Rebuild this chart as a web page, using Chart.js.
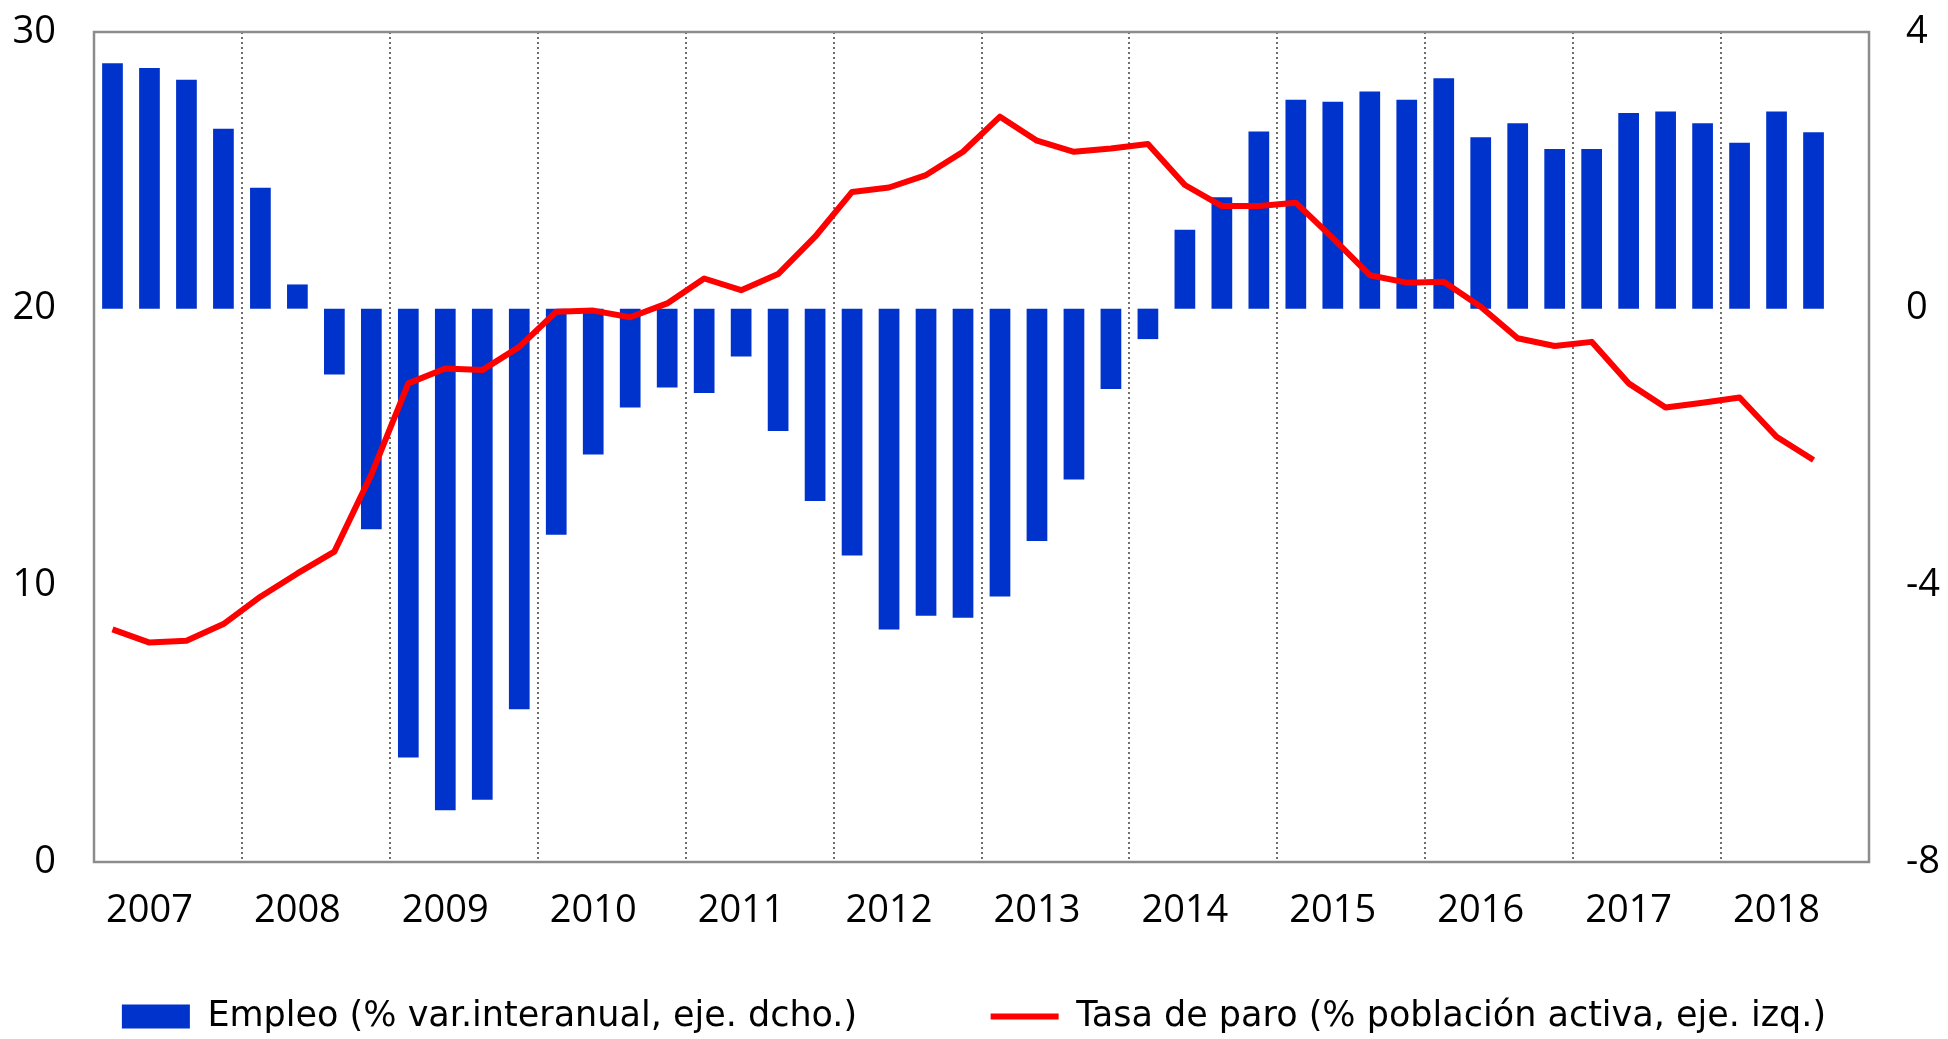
<!DOCTYPE html>
<html>
<head>
<meta charset="utf-8">
<script src="https://cdn.jsdelivr.net/npm/chart.js@4.4.1/dist/chart.umd.min.js"></script>
<style>
  html, body { margin: 0; padding: 0; background: #fff; }
  canvas { display: block; }
</style>
</head>
<body>
<canvas id="grafico" width="1948" height="1039"></canvas>
<script>
// datos trimestrales 2007-2018
const years = ['2007', '2008', '2009', '2010', '2011', '2012', '2013', '2014', '2015', '2016', '2017', '2018'];
const quarters = ['T1', 'T2', 'T3', 'T4'];

// Empleo, % var. interanual (eje derecho)
const empleo = [
    3.55, 3.48, 3.31, 2.60,
    1.75, 0.35, -0.95, -3.19,
    -6.49, -7.25, -7.10, -5.79,
    -3.27, -2.11, -1.43, -1.14,
    -1.22, -0.69, -1.77, -2.78,
    -3.57, -4.64, -4.44, -4.47,
    -4.16, -3.36, -2.47, -1.16,
    -0.44, 1.14, 1.61, 2.56,
    3.02, 2.99, 3.14, 3.02,
    3.33, 2.48, 2.68, 2.31,
    2.31, 2.83, 2.85, 2.68,
    2.40, 2.85, 2.55, null
];

// Tasa de paro, % poblacion activa (eje izquierdo)
const tasaParo = [
    8.41, 7.93, 8.00, 8.60,
    9.59, 10.43, 11.22, 14.00,
    17.30, 17.84, 17.78, 18.62,
    19.89, 19.93, 19.69, 20.19,
    21.09, 20.67, 21.25, 22.60,
    24.22, 24.38, 24.83, 25.67,
    26.94, 26.07, 25.67, 25.79,
    25.95, 24.47, 23.71, 23.71,
    23.83, 22.55, 21.21, 20.94,
    20.97, 20.07, 18.93, 18.65,
    18.80, 17.30, 16.43, 16.60,
    16.79, 15.37, 14.53, null
];

const seriesNames = ['Empleo (% var.interanual, eje. dcho.)', 'Tasa de paro (% población activa, eje. izq.)'];
const leftTicks = [0, 10, 20, 30];
const rightTicks = [-8, -4, 0, 4];

const categories = years.flatMap(y => quarters.map(q => y + q));

// marco gris del area de trazado
const marco = {
    id: 'marco',
    beforeDatasetsDraw(chart) {
        const {ctx, chartArea: a} = chart;
        ctx.save();
        ctx.strokeStyle = '#8c8c8c';
        ctx.lineWidth = 2.5;
        ctx.strokeRect(a.left, a.top, a.right - a.left, a.bottom - a.top);
        ctx.restore();
    }
};

const tickFont = {family: 'Open Sans', size: 38};

// ancho fijo del eje y sin margen extra arriba/abajo
function fijarEje(width) {
    return s => {
        s.width = width;
        s.paddingTop = 0;
        s.paddingBottom = 0;
    };
}

new Chart('grafico', {
    type: 'bar',
    data: {
        labels: categories,
        datasets: [{
            type: 'bar',
            label: seriesNames[0],
            data: empleo,
            yAxisID: 'yR',
            backgroundColor: '#0033cc',
            barPercentage: 0.56,
            categoryPercentage: 1,
            pointStyle: 'rect',
            order: 2
        }, {
            type: 'line',
            label: seriesNames[1],
            data: tasaParo,
            yAxisID: 'yL',
            borderColor: '#ff0000',
            backgroundColor: '#ff0000',
            borderWidth: 6,
            borderJoinStyle: 'round',
            pointRadius: 0,
            tension: 0,
            pointStyle: 'line',
            order: 1
        }]
    },
    options: {
        responsive: false,
        animation: false,
        devicePixelRatio: 1,
        layout: { padding: { top: 32, left: 0, right: 0, bottom: -5 } },
        plugins: {
            tooltip: { enabled: false },
            legend: {
                position: 'bottom',
                labels: {
                    usePointStyle: true,
                    pointStyleWidth: 68,
                    boxHeight: 24,
                    padding: 24,
                    color: '#000',
                    font: { family: 'DejaVu Sans', size: 35 },
                    generateLabels: chart => {
                        const items = Chart.defaults.plugins.legend.labels.generateLabels(chart);
                        items.sort((a, b) => a.datasetIndex - b.datasetIndex);
                        // hueco vacio entre las dos entradas
                        items.splice(1, 0, {
                            text: '', fillStyle: 'rgba(0,0,0,0)', strokeStyle: 'rgba(0,0,0,0)',
                            lineWidth: 0, pointStyle: 'rect', hidden: false, datasetIndex: -1
                        });
                        return items;
                    }
                }
            }
        },
        scales: {
            x: {
                offset: true,
                grid: {
                    offset: true,
                    drawTicks: false,
                    lineWidth: 2,
                    color: c => (c.index % 4 === 0 && c.index > 0) ? '#6e6e6e' : 'rgba(0,0,0,0)'
                },
                border: { display: false, dash: [2, 3] },
                ticks: {
                    autoSkip: false,
                    maxRotation: 0,
                    padding: 26,
                    color: '#000',
                    font: { family: 'Open Sans', size: 38 },
                    callback: (v, i) => i % 4 === 1 ? years[Math.floor(i / 4)] : ''
                },
                afterFit: s => { s.height = 113; }
            },
            yL: {
                position: 'left',
                min: leftTicks[0],
                max: leftTicks[leftTicks.length - 1],
                ticks: { stepSize: leftTicks[1] - leftTicks[0], padding: 38, color: '#000', font: tickFont },
                grid: { display: false, drawTicks: false },
                border: { display: false },
                afterFit: fijarEje(94)
            },
            yR: {
                position: 'right',
                min: rightTicks[0],
                max: rightTicks[rightTicks.length - 1],
                ticks: { stepSize: rightTicks[1] - rightTicks[0], padding: 37, color: '#000', font: tickFont },
                grid: { display: false, drawTicks: false },
                border: { display: false },
                afterFit: fijarEje(79)
            }
        }
    },
    plugins: [marco]
});
</script>
</body>
</html>
